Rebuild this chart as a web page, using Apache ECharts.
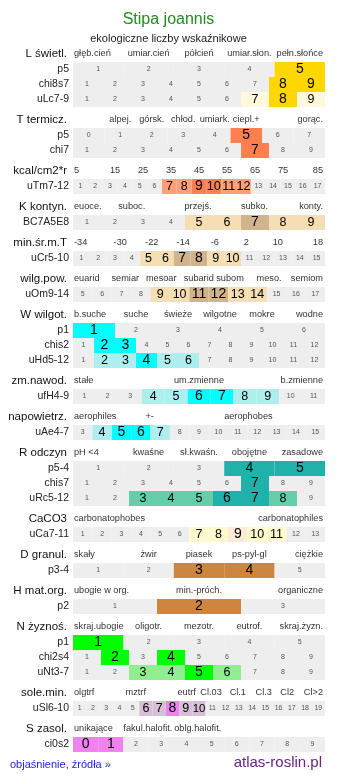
<!DOCTYPE html>
<html><head><meta charset="utf-8">
<script src="https://cdn.jsdelivr.net/npm/echarts@6/dist/echarts.min.js"></script>
<style>html,body{margin:0;padding:0;background:#fff}#c{width:337px;height:781px}</style>
</head><body><div id="c"></div>
<script>
// ---------------- DATA ----------------
const titleText = "Stipa joannis";
const subtitleText = "ekologiczne liczby wskaźnikowe";
const footerLeft = "objaśnienie, źródła »";
const footerRight = "atlas-roslin.pl";

const headerNames = ["L świetl.","T termicz.","kcal/cm2*r","K kontyn.","min.śr.m.T","wilg.pow.","W wilgot.","zm.nawod.","napowietrz.","R odczyn","CaCO3","D granul.","H mat.org.","N żyznoś.","sole.min.","S zasol."];

// tick labels: [text, position along the scale 0..1]
const ticksL = [["głęb.cień",0],["umiar.cień",0.3],["półcień",0.5],["umiar.słon.",0.7],["pełn.słońce",1]];
const ticksT = [["alpej.",0.1875],["górsk.",0.3125],["chłod.",0.4375],["umiark.",0.5625],["ciepl.+",0.6875],["gorąc.",1]];
const ticksKcal = [["5",0],["15",0.1667],["25",0.2778],["35",0.3889],["45",0.5],["55",0.6111],["65",0.7222],["75",0.8333],["85",1]];
const ticksK = [["euoce.",0],["suboc.",0.233],["przejś.",0.496],["subko.",0.72],["konty.",1]];
const ticksMin = [["-34",0],["-30",0.1875],["-22",0.3125],["-14",0.4375],["-6",0.5625],["2",0.6875],["10",0.8125],["18",1]];
const ticksWilg = [["euarid",0],["semiar",0.2075],["mesoar",0.35],["subarid",0.499],["subom",0.623],["meso.",0.778],["semiom",1]];
const ticksW = [["b.suche",0],["suche",0.25],["świeże",0.4167],["wilgotne",0.5833],["mokre",0.75],["wodne",1]];
const ticksZm = [["stałe",0],["um.zmienne",0.5],["b.zmienne",1]];
const ticksNap = [["aerophiles",0],["+-",0.304],["aerophobes",0.696]];
const ticksR = [["pH <4",0],["kwaśne",0.3],["sł.kwaśn.",0.5],["obojętne",0.7],["zasadowe",1]];
const ticksCa = [["carbonatophobes",0],["carbonatophiles",1]];
const ticksD = [["skały",0],["żwir",0.3],["piasek",0.5],["ps-pyl-gl",0.7],["ciężkie",1]];
const ticksH = [["ubogie w org.",0],["min.-próch.",0.5],["organiczne",1]];
const ticksN = [["skraj.ubogie",0],["oligotr.",0.3],["mezotr.",0.5],["eutrof.",0.7],["skraj.żyzn.",1]];
const ticksSole = [["olgtrf",0],["mztrf",0.249],["eutrf",0.451],["Cl.03",0.548],["Cl.1",0.654],["Cl.3",0.757],["Cl2",0.85],["Cl>2",1]];
const ticksS = [["unikające",0],["fakul.halofit.",0.297],["oblg.halofit.",0.495]];

// rows: [label, first value, last value, optimum values, range values]
const rowsL = [["p5",1,5,[5],[]],["chi8s7",1,9,[8,9],[]],["uLc7-9",1,9,[8],[7,9]]];
const rowsT = [["p5",0,7,[5],[]],["chi7",1,9,[7],[]]];
const rowsKcal = [["uTm7-12",1,17,[9,10],[7,8,11,12]]];
const rowsK = [["BC7A5E8",1,9,[7],[5,6,8,9]]];
const rowsMin = [["uCr5-10",1,15,[7,8],[5,6,9,10]]];
const rowsWilg = [["uOm9-14",5,17,[11,12],[9,10,13,14]]];
const rowsW = [["p1",1,6,[1],[]],["chis2",1,12,[2,3],[]],["uHd5-12",1,12,[4],[2,3,5,6]]];
const rowsZm = [["ufH4-9",1,11,[6,7],[4,5,8,9]]];
const rowsNap = [["uAe4-7",3,15,[5,6],[4,7]]];
const rowsR = [["p5-4",1,5,[4,5],[]],["chis7",1,9,[7],[]],["uRc5-12",1,9,[6,7],[3,4,5,8]]];
const rowsCa = [["uCa7-11",1,13,[9],[7,8,10,11]]];
const rowsD = [["p3-4",1,5,[3,4],[]]];
const rowsH = [["p2",1,3,[2],[]]];
const rowsN = [["p1",1,5,[1],[]],["chi2s4",1,9,[2,4],[]],["uNt3-7",1,9,[5],[3,4,6]]];
const rowsSole = [["uSl6-10",1,19,[8],[6,7,9,10]]];
const rowsS = [["ci0s2",0,9,[0,1],[]]];

// ---------------- STYLE ----------------
const palettes = [
  ["#FFD700","#FFF8DC"],["#FF7F50","#FFA07A"],["#FF7F50","#FFA07A"],["#D2B48C","#F5DEB3"],
  ["#D2B48C","#F5DEB3"],["#D2B48C","#F5DEB3"],["#00FFFF","#AFEEEE"],["#00FFFF","#AFEEEE"],
  ["#00FFFF","#AFEEEE"],["#20B2AA","#66CDAA"],["#FDEBD7","#FFFACD"],["#CD853F","#CD853F"],
  ["#CD853F","#CD853F"],["#00FF00","#90EE90"],["#EE82EE","#D8BFD8"],["#EE82EE","#D8BFD8"]
];
const tickSets = [ticksL,ticksT,ticksKcal,ticksK,ticksMin,ticksWilg,ticksW,ticksZm,ticksNap,ticksR,ticksCa,ticksD,ticksH,ticksN,ticksSole,ticksS];
const rowSets = [rowsL,rowsT,rowsKcal,rowsK,rowsMin,rowsWilg,rowsW,rowsZm,rowsNap,rowsR,rowsCa,rowsD,rowsH,rowsN,rowsSole,rowsS];

const FONT = "'Liberation Sans', Arial, sans-serif";
const GAP = 1.4; // section gap in row units

// build series data
const cellData = [], cellMeta = [];
const labelData = [], labelMeta = [];
let y = 0;
rowSets.forEach((rows, s) => {
  labelData.push([0, y - 0.55]);
  labelMeta.push({text: headerNames[s], kind: 'header'});
  tickSets[s].forEach(t => {
    labelData.push([t[1], y - 0.55]);
    labelMeta.push({text: t[0], kind: 'tick'});
  });
  rows.forEach(r => {
    const [name, a, b, opt, rng] = r;
    const n = b - a + 1;
    labelData.push([0, y + 0.5]);
    labelMeta.push({text: name, kind: 'row'});
    for (let v = a; v <= b; v++) {
      const i = v - a;
      const lvl = opt.includes(v) ? 2 : (rng.includes(v) ? 1 : 0);
      cellData.push([i / n, (i + 1) / n, y, v, lvl]);
      cellMeta.push({sec: s});
    }
    y += 1;
  });
  y += GAP;
});
const yMax = y - GAP;

const chart = echarts.init(document.getElementById('c'), null, {renderer: 'canvas'});
chart.setOption({
  animation: false,
  backgroundColor: '#fff',
  title: [
    {text: titleText, left: 'center', top: 7, textStyle: {fontFamily: FONT, fontSize: 16, fontWeight: 'normal', color: '#228B22'}},
    {text: subtitleText, left: 'center', top: 28, textStyle: {fontFamily: FONT, fontSize: 11, fontWeight: 'normal', color: '#222'}}
  ],
  grid: {left: 73, right: 12, top: 62, height: 690, containLabel: false},
  xAxis: {type: 'value', min: 0, max: 1, show: false},
  yAxis: {type: 'value', min: 0, max: yMax, inverse: true, show: false},
  series: [
    {
      type: 'custom',
      data: cellData,
      clip: false,
      renderItem(params, api) {
        const x0 = api.value(0), x1 = api.value(1), yy = api.value(2), v = api.value(3), lvl = api.value(4);
        const p0 = api.coord([x0, yy]), p1 = api.coord([x1, yy + 1]);
        const w = p1[0] - p0[0];
        const pal = palettes[cellMeta[params.dataIndex].sec];
        const fill = lvl === 2 ? pal[0] : (lvl === 1 ? pal[1] : '#EEEEEE');
        const base = lvl === 2 ? 14 : (lvl === 1 ? 12.5 : 7);
        const fs = lvl === 0 ? 7 : (v >= 10 ? Math.min(base, w * 0.86) : base);
        return {
          type: 'rect',
          shape: {x: p0[0], y: p0[1], width: w, height: p1[1] - p0[1]},
          style: {fill: fill},
          textContent: {
            style: {
              text: String(v), fontFamily: FONT,
              fontSize: fs,
              fill: lvl === 0 ? '#555' : '#000'
            }
          },
          textConfig: {position: 'inside'}
        };
      }
    },
    {
      type: 'custom',
      data: labelData,
      clip: false,
      renderItem(params, api) {
        const m = labelMeta[params.dataIndex];
        const p = api.coord([api.value(0), api.value(1)]);
        let x = p[0], align = 'center', size = 9.2, color = '#333';
        if (m.kind === 'header') { x = p[0] - 6; align = 'right'; size = 11.5; color = '#111'; }
        else if (m.kind === 'row') { x = p[0] - 4; align = 'right'; size = 10.5; color = '#222'; }
        else {
          if (api.value(0) === 0) { align = 'left'; x = p[0] + 1; }
          else if (api.value(0) === 1) { align = 'right'; x = p[0] - 2; }
        }
        return {
          type: 'text',
          x: x, y: p[1],
          style: {text: m.text, fontFamily: FONT, fontSize: size, fill: color, align: align, verticalAlign: 'middle'}
        };
      }
    }
  ],
  graphic: [
    {type: 'text', left: 10, top: 759, style: {text: footerLeft, fontFamily: FONT, fontSize: 11, fill: '#2020EE'}},
    {type: 'text', right: 15, top: 755, style: {text: footerRight, fontFamily: FONT, fontSize: 15, fill: '#662288'}}
  ]
});
</script>
</body></html>
